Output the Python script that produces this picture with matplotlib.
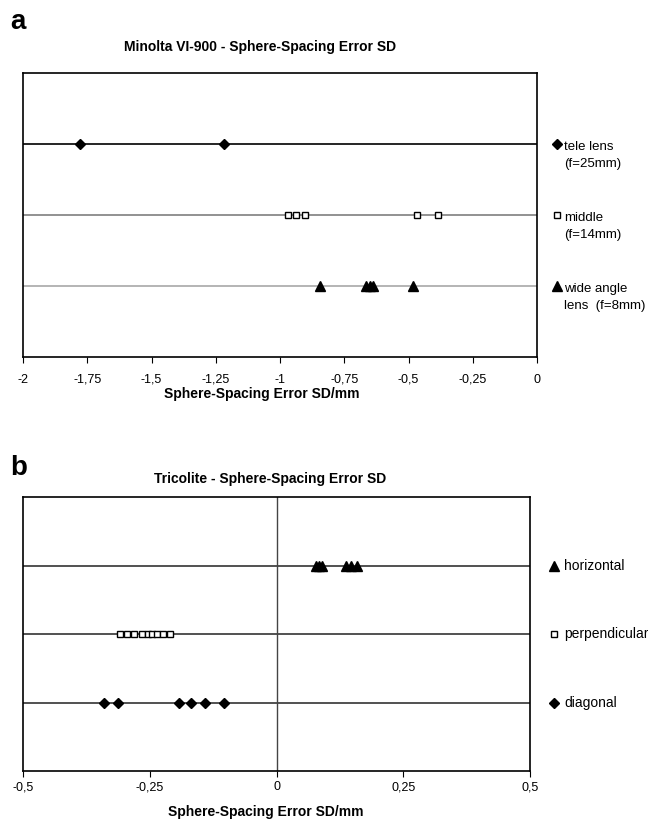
import matplotlib
matplotlib.use("Agg")
import matplotlib.pyplot as plt
import matplotlib.transforms as mtransforms
from matplotlib.ticker import FuncFormatter

plt.rcParams["font.family"] = ["Liberation Sans", "DejaVu Sans"]

# -----------------------------------------------------------------
# Panel a: Minolta VI-900
# -----------------------------------------------------------------
a_tele = [-1.778, -1.218]
a_middle = [-0.969, -0.938, -0.903, -0.467, -0.385]
a_wide = [-0.844, -0.665, -0.650, -0.638, -0.482]
a_labels = ["tele lens\n(f=25mm)", "middle\n(f=14mm)", "wide angle\nlens  (f=8mm)"]
a_ticks = [-2, -1.75, -1.5, -1.25, -1, -0.75, -0.5, -0.25, 0]

# -----------------------------------------------------------------
# Panel b: Tricolite
# -----------------------------------------------------------------
b_horizontal = [0.077, 0.083, 0.089, 0.138, 0.146, 0.158]
b_perpendicular = [-0.308, -0.294, -0.282, -0.266, -0.254, -0.245,
                   -0.235, -0.223, -0.211]
b_diagonal = [-0.341, -0.313, -0.193, -0.168, -0.141, -0.103]
b_labels = ["horizontal", "perpendicular", "diagonal"]
b_ticks = [-0.5, -0.25, 0, 0.25, 0.5]


def comma_fmt(v, pos):
    s = f"{v:g}"
    return s.replace(".", ",")


fig = plt.figure(figsize=(6.48, 8.19), dpi=100)
W, H = 648, 819


def box(left, top, right, bottom):
    return [left / W, 1 - bottom / H, (right - left) / W, (bottom - top) / H]


ax_a = fig.add_axes(box(23, 73, 537, 357))
ax_b = fig.add_axes(box(23, 497, 530, 771))

# marker styles
diamond = dict(marker="D", markersize=5.5, color="black", linestyle="none")
square = dict(marker="s", markersize=5, markerfacecolor="white",
              markeredgecolor="black", markeredgewidth=1.0, linestyle="none")
triangle = dict(marker="^", markersize=7, color="black", linestyle="none")

# ---- panel a
rows_a = [3, 2, 1]
line_cols_a = ["black", "#7f7f7f", "#a8a8a8"]
series_a = [a_tele, a_middle, a_wide]
styles_a = [diamond, square, triangle]
for y, col, vals, st in zip(rows_a, line_cols_a, series_a, styles_a):
    ax_a.axhline(y, color=col, lw=1.2, zorder=1)
    ax_a.plot(vals, [y] * len(vals), zorder=3, clip_on=False, **st)

ax_a.set_xlim(-2, 0)
ax_a.set_ylim(0, 4)
ax_a.set_xticks(a_ticks)
ax_a.xaxis.set_major_formatter(FuncFormatter(comma_fmt))
ax_a.set_yticks([])
ax_a.set_xlabel("Sphere-Spacing Error SD/mm", fontsize=10, fontweight="bold",
                labelpad=1, x=0.465)
ax_a.set_title("Minolta VI-900 - Sphere-Spacing Error SD", fontsize=10,
               fontweight="bold", pad=16, x=0.461)

trans_a = mtransforms.blended_transform_factory(ax_a.transAxes, ax_a.transData)
for y, lab, st in zip(rows_a, a_labels, styles_a):
    ax_a.plot([1.038], [y], transform=trans_a, clip_on=False, **st)
    ax_a.text(1.053, y + 0.04, lab, transform=trans_a, fontsize=9.5,
              va="top", ha="left", linespacing=1.5)

# ---- panel b
rows_b = [3, 2, 1]
series_b = [b_horizontal, b_perpendicular, b_diagonal]
styles_b = [triangle, square, diamond]
for y, vals, st in zip(rows_b, series_b, styles_b):
    ax_b.axhline(y, color="#222222", lw=1.1, zorder=1)
    ax_b.plot(vals, [y] * len(vals), zorder=3, **st)
ax_b.axvline(0, color="#444444", lw=1.0, zorder=1)

ax_b.set_xlim(-0.5, 0.5)
ax_b.set_ylim(0, 4)
ax_b.set_xticks(b_ticks)
ax_b.xaxis.set_major_formatter(FuncFormatter(comma_fmt))
ax_b.set_yticks([])
ax_b.set_xlabel("Sphere-Spacing Error SD/mm", fontsize=10, fontweight="bold",
                labelpad=8, x=0.478)
ax_b.set_title("Tricolite - Sphere-Spacing Error SD", fontsize=10,
               fontweight="bold", pad=10, x=0.488)

trans_b = mtransforms.blended_transform_factory(ax_b.transAxes, ax_b.transData)
for y, lab, st in zip(rows_b, b_labels, styles_b):
    ax_b.plot([1.048], [y], transform=trans_b, clip_on=False, **st)
    ax_b.text(1.068, y, lab, transform=trans_b, fontsize=10,
              va="center", ha="left")

# baseline-aligned tick labels so that commas don't shift them
for ax, pad in ((ax_a, 14.5), (ax_b, 10)):
    for sp in ax.spines.values():
        sp.set_color("black")
        sp.set_linewidth(1.2)
    ax.tick_params(axis="x", direction="out", length=4, width=0.8,
                   labelsize=9, pad=pad)
    for lab in ax.get_xticklabels():
        lab.set_verticalalignment("baseline")

fig.text(10 / W, 1 - 22 / H, "a", fontsize=20, fontweight="bold",
         va="center", ha="left")
fig.text(10 / W, 1 - 468 / H, "b", fontsize=20, fontweight="bold",
         va="center", ha="left")

fig.savefig("out.png", dpi=100)
